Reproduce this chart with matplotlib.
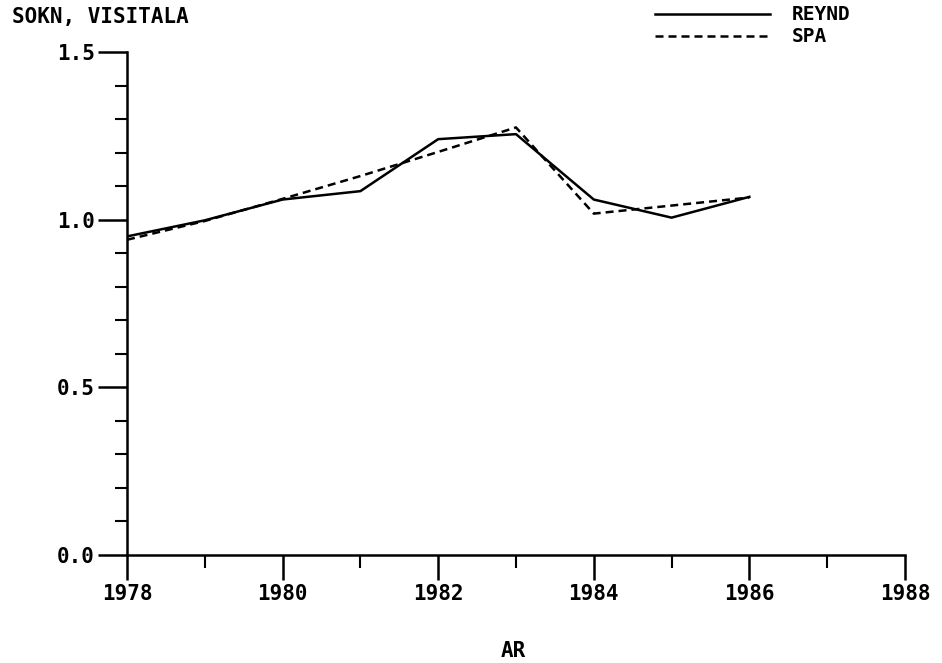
import matplotlib.pyplot as plt
from matplotlib.lines import Line2D
from matplotlib.ticker import MultipleLocator

years = [1978, 1979, 1980, 1981, 1982, 1983, 1984, 1985, 1986]
reynd = [0.950, 0.998, 1.060, 1.085, 1.240, 1.255, 1.060, 1.006, 1.068]
spa = [0.940, 0.996, 1.062, 1.130, 1.202, 1.275, 1.018, 1.042, 1.066]
series_names = ['REYND', 'SPA']

plt.rcParams['font.family'] = 'DejaVu Sans Mono'
plt.rcParams['font.weight'] = 'bold'
fs = 15
lw = 1.8
dash = (0, (3.2, 2))

fig = plt.figure(figsize=(9.42, 6.63), dpi=100)
ax = fig.add_axes([0.1348, 0.1629, 0.8259, 0.7587])

ax.plot(years, reynd, color='black', linewidth=lw)
ax.plot(years, spa, color='black', linewidth=lw, linestyle=dash)

ax.set_xlim(1978, 1988)
ax.set_ylim(0.0, 1.5)

# plotter style axes: left and bottom only, ticks pointing out
ax.spines['top'].set_visible(False)
ax.spines['right'].set_visible(False)
ax.spines['left'].set_linewidth(lw)
ax.spines['bottom'].set_linewidth(lw)

ax.xaxis.set_major_locator(MultipleLocator(2))
ax.xaxis.set_minor_locator(MultipleLocator(1))
ax.yaxis.set_major_locator(MultipleLocator(0.5))
ax.yaxis.set_minor_locator(MultipleLocator(0.1))
ax.tick_params(which='major', direction='out', width=lw, labelsize=fs)
ax.tick_params(which='minor', direction='out', length=9, width=1.5)
ax.tick_params(axis='x', which='major', length=18, pad=3)
ax.tick_params(axis='y', which='major', length=21, pad=2)
ax.yaxis.set_major_formatter(lambda v, p: f'{v:.1f}')

fig.text(0.013, 0.974, 'SOKN, VISITALA', fontsize=fs, fontweight='bold', va='center', ha='left')
fig.text(0.545, 0.018, 'AR', fontsize=fs, fontweight='bold', va='center', ha='center')

# key in the top right corner, drawn by hand to keep the tight row spacing
W, H = 942, 663
for i, (name, ls) in enumerate(zip(series_names, ['-', dash])):
    yk = 1 - (14 + 22 * i) / H
    fig.add_artist(Line2D([655 / W, 770 / W], [yk, yk], color='black', linewidth=lw, linestyle=ls))
    fig.text(792 / W, yk, name, fontsize=14, fontweight='bold', va='center', ha='left')

fig.savefig('out.png', dpi=100)
